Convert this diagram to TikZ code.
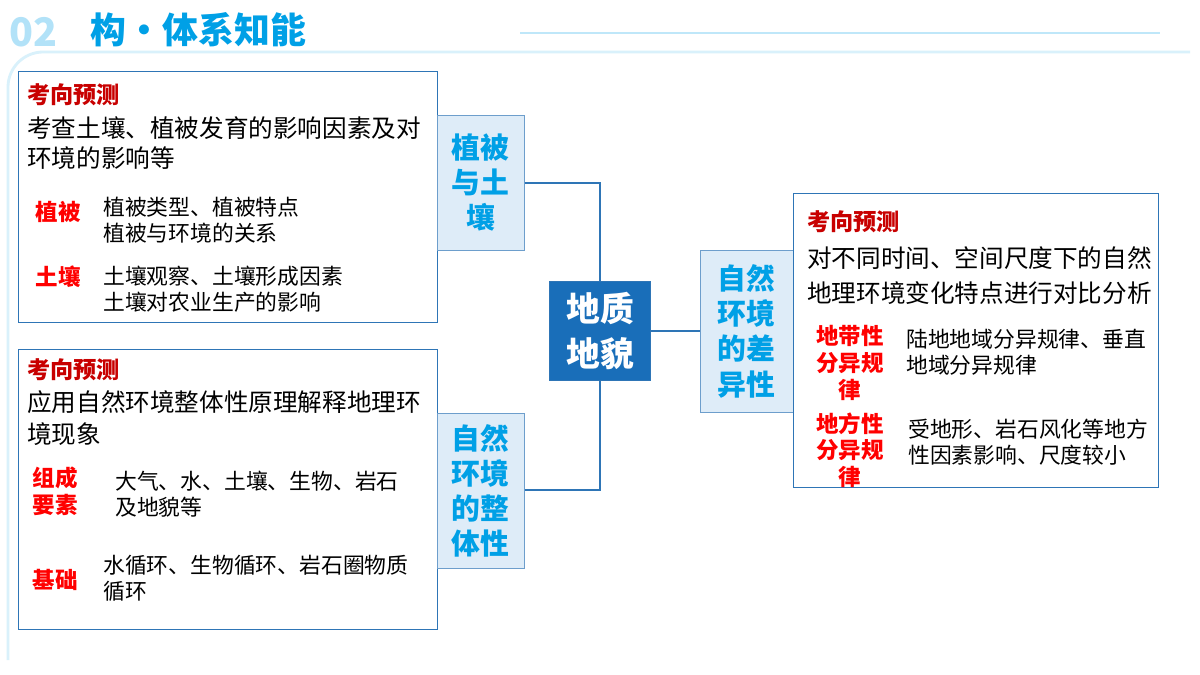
\documentclass[tikz,border=0pt]{standalone}
\usepackage{fontspec}
\setmainfont{Noto Sans CJK SC}
\usetikzlibrary{positioning}
\definecolor{frameblue}{RGB}{46,117,182}
\definecolor{titleblue}{RGB}{0,160,230}
\definecolor{tagfill}{RGB}{222,236,248}
\definecolor{deepblue}{RGB}{25,110,185}
\definecolor{tipred}{RGB}{200,0,0}
\tikzstyle{infobox} = [rectangle, draw=frameblue, line width=1pt, fill=white]
\tikzstyle{tagbox} = [rectangle, draw=frameblue!70, fill=tagfill, text=titleblue, font=\bfseries\fontsize{20.5}{25}\selectfont, align=center, inner sep=2pt]
\tikzstyle{body} = [anchor=west, inner sep=0pt, font=\fontsize{17.5}{19}\selectfont]
\tikzstyle{small} = [anchor=west, inner sep=0pt, font=\fontsize{15.5}{18.5}\selectfont, align=left]
\tikzstyle{redtag} = [inner sep=0pt, text=red, font=\bfseries\fontsize{16}{19}\selectfont, align=center]
\tikzstyle{link} = [draw=frameblue, line width=0.8pt]

\begin{document}
\begin{tikzpicture}[x=0.025cm, y=-0.025cm]
		
		% frame of the page
		\useasboundingbox (0,0) rectangle (1200,675);
		\fill[white] (0,0) rectangle (1200,675);
		\draw[titleblue!15, line width=2pt, rounded corners=25pt] (8,660) -- (8,52) -- (1190,52);
		\draw[titleblue!25, line width=1pt] (520,33) -- (1160,33);
		\node (num) [anchor=west, text=titleblue!30, font=\bfseries\fontsize{28}{30}\selectfont] at (5,32) {02};
		\node (title) [anchor=west, text=titleblue, font=\bfseries\fontsize{25.5}{30}\selectfont] at (86,30) {构·体系知能};
		
		% left boxes
		\node (boxa) [infobox, minimum width=419*0.025cm, minimum height=251*0.025cm, anchor=north west] at (18,71) {};
		\node (boxb) [infobox, minimum width=419*0.025cm, minimum height=280*0.025cm, anchor=north west] at (18,349) {};
		\node (plant) [tagbox, minimum width=87*0.025cm, minimum height=135*0.025cm, anchor=north west] at (437,115) {植被\\与土\\壤};
		\node (whole) [tagbox, minimum width=87*0.025cm, minimum height=155*0.025cm, anchor=north west] at (437,413) {自然\\环境\\的整\\体性};
		
		% centre and right
		\node (core) [rectangle, fill=deepblue, draw=frameblue, text=white, font=\bfseries\fontsize{24}{32}\selectfont, align=center, minimum width=101*0.025cm, minimum height=99*0.025cm] at (600,331) {地质\\地貌};
		\node (diff) [tagbox, minimum width=93*0.025cm, minimum height=162*0.025cm, anchor=north west] at (700,250) {自然\\环境\\的差\\异性};
		\node (boxc) [infobox, minimum width=365*0.025cm, minimum height=294*0.025cm, anchor=north west] at (793,193) {};
		
		\draw [link] (plant.east |- 0,183) -| (core.north);
		\draw [link] (whole.east |- 0,490) -| (core.south);
		\draw [link] (core.east) -- (diff.west |- core.east);
		
		% texts of the first box
		\node (ta1) [redtag, anchor=west, font=\bfseries\fontsize{16.5}{18}\selectfont, text=tipred] at (27,95) {考向预测};
		\node (ta2) [body] at (27,128) {考查土壤、植被发育的影响因素及对};
		\node (ta3) [body] at (27,158) {环境的影响等};
		\node (ta4) [redtag] at (58,212) {植被};
		\node (ta5) [small] at (103,220) {植被类型、植被特点\\植被与环境的关系};
		\node (ta6) [redtag] at (58,277) {土壤};
		\node (ta7) [small] at (103,289) {土壤观察、土壤形成因素\\土壤对农业生产的影响};
		
		% texts of the second box
		\node (tb1) [redtag, anchor=west, font=\bfseries\fontsize{16.5}{18}\selectfont, text=tipred] at (27,370) {考向预测};
		\node (tb2) [body] at (27,402) {应用自然环境整体性原理解释地理环};
		\node (tb3) [body] at (27,434) {境现象};
		\node (tb4) [redtag] at (55,491) {组成\\要素};
		\node (tb5) [small] at (115,494) {大气、水、土壤、生物、岩石\\及地貌等};
		\node (tb6) [redtag] at (55,580) {基础};
		\node (tb7) [small] at (103,578) {水循环、生物循环、岩石圈物质\\循环};
		
		% texts of the third box
		\node (tc1) [redtag, anchor=west, font=\bfseries\fontsize{16.5}{18}\selectfont, text=tipred] at (807,222) {考向预测};
		\node (tc2) [body] at (807,258) {对不同时间、空间尺度下的自然};
		\node (tc3) [body] at (807,293) {地理环境变化特点进行对比分析};
		\node (tc4) [redtag] at (850,363) {地带性\\分异规\\律};
		\node (tc5) [small] at (906,352) {陆地地域分异规律、垂直\\地域分异规律};
		\node (tc6) [redtag] at (850,450) {地方性\\分异规\\律};
		\node (tc7) [small] at (908,442) {受地形、岩石风化等地方\\性因素影响、尺度较小};
		
	\end{tikzpicture}
\end{document}
